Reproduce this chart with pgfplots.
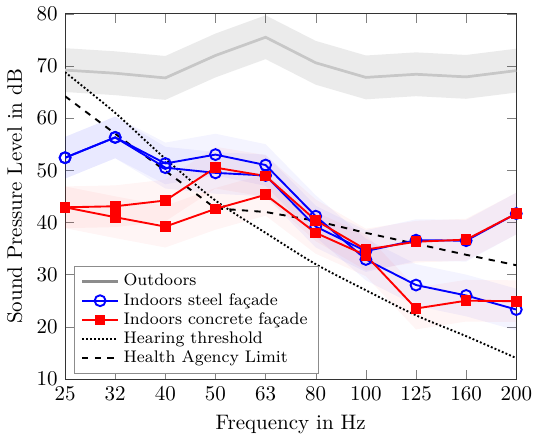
\documentclass[border=0pt]{standalone}
\usepackage{pgfplots}
\pgfplotsset{compat=1.18}
\usepackage{pgfplotstable}

% one table per series, x = third-octave band index
\pgfplotstableread{
x  out   stA   stB   coA   coB   hear  lim
0  69.2  52.4  52.4  42.9  42.9  68.8  64.2
1  68.6  56.3  56.3  43.1  41.0  61.0  57.0
2  67.7  51.3  50.5  44.2  39.2  52.2  49.9
3  72.0  53.0  49.5  50.5  42.6  44.2  42.7
4  75.5  51.0  49.0  48.9  45.3  38.0  42.0
5  70.6  41.2  39.2  40.4  38.0  32.0  40.3
6  67.8  32.9  34.5  34.8  33.7  27.0  38.0
7  68.4  28.0  36.6  36.3  23.5  22.2  35.9
8  67.9  26.0  36.5  36.7  25.0  18.2  33.8
9  69.1  23.3  41.7  41.7  24.9  14.0  31.8
}\data

\begin{document}
\begin{tikzpicture}
\begin{axis}[
    width=215pt, height=174pt, scale only axis,
    xmin=0, xmax=9, ymin=10, ymax=80,
    xtick={0,...,9},
    xticklabels={25,32,40,50,63,80,100,125,160,200},
    ytick={10,20,...,80},
    xlabel={Frequency in Hz},
    ylabel={Sound Pressure Level in dB},
    axis line style={black!80},
    legend style={at={(rel axis cs:0.02,0.015)}, anchor=south west,
        draw=black!45, fill=white, legend cell align=left, font=\footnotesize,
        row sep=-2pt, inner ysep=1.5pt},
]
\addlegendimage{line width=1.3pt, black!45}
\addlegendentry{Outdoors}
\addlegendimage{blue, line width=0.9pt, mark=o, mark size=2.6pt, mark options={fill=white}}
\addlegendentry{Indoors steel fa\c{c}ade}
\addlegendimage{red, line width=0.9pt, mark=square*, mark size=2.1pt}
\addlegendentry{Indoors concrete fa\c{c}ade}
\addlegendimage{black, densely dotted, line width=0.9pt}
\addlegendentry{Hearing threshold}
\addlegendimage{black, dashed, line width=0.9pt}
\addlegendentry{Health Agency Limit}

% uncertainty bands
\addplot[forget plot, draw=none, fill=black, fill opacity=0.08]
  coordinates {(0,73.4)(1,72.8)(2,71.9)(3,76.2)(4,79.7)(5,74.8)(6,72.0)(7,72.6)(8,72.1)(9,73.3)
               (9,64.9)(8,63.7)(7,64.2)(6,63.6)(5,66.4)(4,71.3)(3,67.8)(2,63.5)(1,64.4)(0,65.0)} -- cycle;
\addplot[forget plot, draw=none, fill=blue, fill opacity=0.045]
  coordinates {(0,56.4)(1,60.3)(2,55.3)(3,57.0)(4,55.0)(5,45.2)(6,36.9)(7,32.0)(8,30.0)(9,27.3)
               (9,19.3)(8,22.0)(7,24.0)(6,28.9)(5,37.2)(4,47.0)(3,49.0)(2,47.3)(1,52.3)(0,48.4)} -- cycle;
\addplot[forget plot, draw=none, fill=blue, fill opacity=0.045]
  coordinates {(0,56.4)(1,60.3)(2,54.5)(3,53.5)(4,53.0)(5,43.2)(6,38.5)(7,40.6)(8,40.5)(9,45.7)
               (9,37.7)(8,32.5)(7,32.6)(6,30.5)(5,35.2)(4,45.0)(3,45.5)(2,46.5)(1,52.3)(0,48.4)} -- cycle;
\addplot[forget plot, draw=none, fill=red, fill opacity=0.04]
  coordinates {(0,46.9)(1,47.1)(2,48.2)(3,54.5)(4,52.9)(5,44.4)(6,38.8)(7,40.3)(8,40.7)(9,45.7)
               (9,37.7)(8,32.7)(7,32.3)(6,30.8)(5,36.4)(4,44.9)(3,46.5)(2,40.2)(1,39.1)(0,38.9)} -- cycle;
\addplot[forget plot, draw=none, fill=red, fill opacity=0.04]
  coordinates {(0,46.9)(1,45.0)(2,43.2)(3,46.6)(4,49.3)(5,42.0)(6,37.7)(7,27.5)(8,29.0)(9,28.9)
               (9,20.9)(8,21.0)(7,19.5)(6,29.7)(5,34.0)(4,41.3)(3,38.6)(2,35.2)(1,37.0)(0,38.9)} -- cycle;

% reference curves
\addplot[forget plot, black, densely dotted, line width=0.9pt, smooth] table[x=x, y=hear] {\data};
\addplot[forget plot, black, dashed, line width=0.9pt] table[x=x, y=lim] {\data};

% measurements
\addplot[forget plot, black!22, line width=1.3pt] table[x=x, y=out] {\data};
\addplot[forget plot, blue, line width=0.9pt, mark=o, mark size=2.6pt, mark options={fill=white}] table[x=x, y=stA] {\data};
\addplot[forget plot, blue, line width=0.9pt, mark=o, mark size=2.6pt, mark options={fill=white}] table[x=x, y=stB] {\data};
\addplot[forget plot, red, line width=0.9pt, mark=square*, mark size=2.1pt] table[x=x, y=coA] {\data};
\addplot[forget plot, red, line width=0.9pt, mark=square*, mark size=2.1pt] table[x=x, y=coB] {\data};
\end{axis}
\end{tikzpicture}
\end{document}
